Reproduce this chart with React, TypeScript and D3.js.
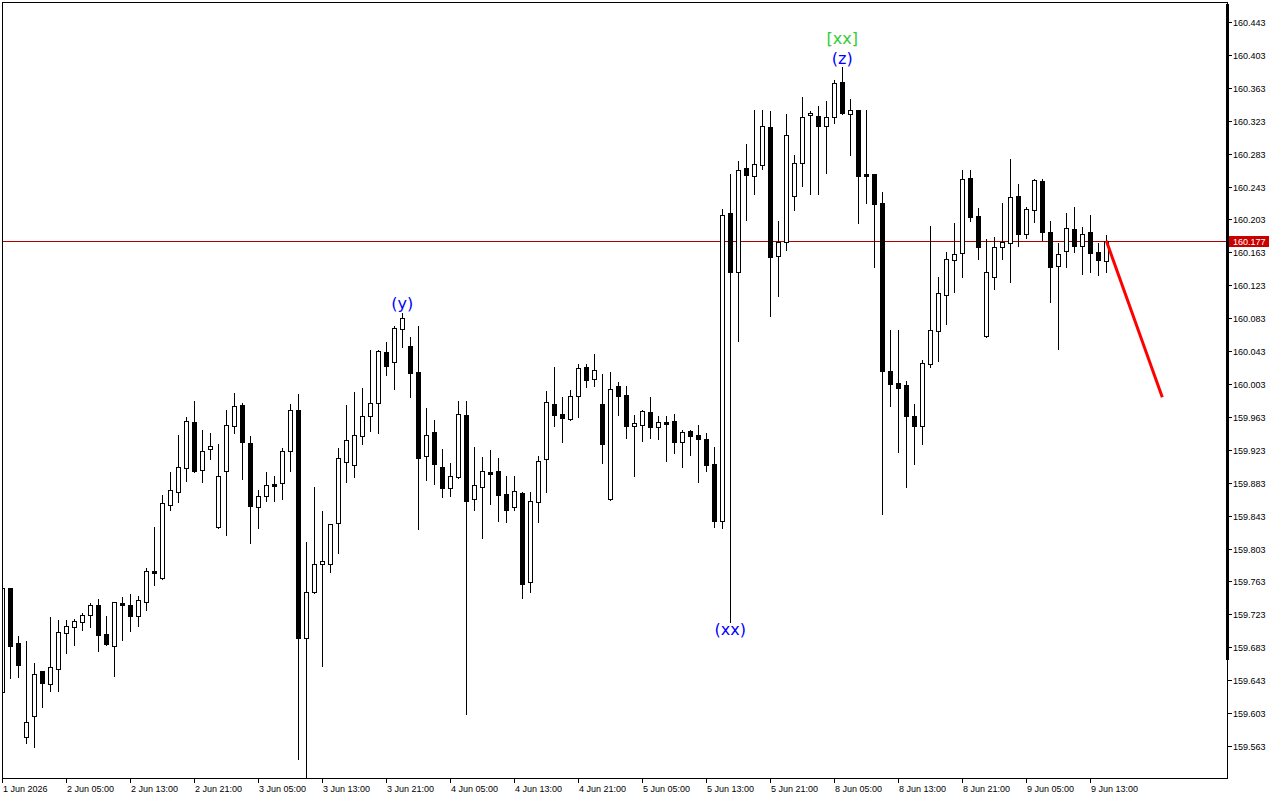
import React from "react";
import * as d3 from "d3";

const opens = [
  159.629, 159.755, 159.688, 159.574, 159.599, 159.654, 159.638, 159.657, 159.700, 159.708,
  159.714, 159.722, 159.734, 159.699, 159.684, 159.737, 159.734, 159.721, 159.738, 159.776,
  159.767, 159.856, 159.872, 159.901, 159.957, 159.898, 159.924, 159.829, 159.897, 159.952,
  159.977, 159.931, 159.853, 159.867, 159.881, 159.883, 159.922, 159.971, 159.694, 159.750,
  159.784, 159.784, 159.834, 159.908, 159.904, 159.940, 159.964, 159.980, 160.042, 160.030,
  160.070, 160.049, 160.018, 159.915, 159.945, 159.902, 159.877, 159.890, 159.965, 159.863,
  159.878, 159.896, 159.897, 159.869, 159.853, 159.870, 159.762, 159.860, 159.912, 159.979,
  159.966, 159.960, 159.988, 160.024, 160.009, 159.979, 159.863, 160.001, 159.990, 159.952,
  159.953, 159.969, 159.951, 159.957, 159.958, 159.932, 159.946, 159.941, 159.936, 159.906,
  159.836, 160.211, 160.139, 160.266, 160.256, 160.269, 160.315, 160.159, 160.176, 160.231,
  160.272, 160.330, 160.329, 160.317, 160.327, 160.370, 160.331, 160.336, 160.258, 160.258,
  160.223, 160.019, 160.004, 160.002, 159.964, 159.952, 160.027, 160.067, 160.111, 160.154,
  160.162, 160.253, 160.207, 160.061, 160.133, 160.169, 160.174, 160.231, 160.185, 160.214,
  160.250, 160.188, 160.146, 160.165, 160.191, 160.171, 160.188, 160.163, 160.152,
];

const highs = [
  159.757, 159.755, 159.697, 159.691, 159.664, 159.654, 159.720, 159.716, 159.716, 159.717,
  159.725, 159.737, 159.742, 159.721, 159.738, 159.744, 159.748, 159.745, 159.779, 159.829,
  159.868, 159.896, 159.941, 159.963, 159.982, 159.947, 159.943, 159.930, 159.971, 159.992,
  159.980, 159.940, 159.874, 159.896, 159.891, 159.925, 159.979, 159.991, 159.811, 159.878,
  159.849, 159.833, 159.925, 159.977, 159.993, 159.998, 160.044, 160.044, 160.054, 160.073,
  160.089, 160.060, 160.073, 159.974, 159.959, 159.924, 159.907, 159.982, 159.982, 159.926,
  159.914, 159.923, 159.913, 159.891, 159.891, 159.872, 159.872, 159.915, 159.994, 160.024,
  159.987, 159.996, 160.027, 160.027, 160.039, 160.015, 160.018, 160.005, 160.001, 159.965,
  159.971, 159.987, 159.964, 159.964, 159.966, 159.947, 159.947, 159.953, 159.944, 159.926,
  160.216, 160.258, 160.274, 160.295, 160.336, 160.336, 160.335, 160.201, 160.331, 160.281,
  160.352, 160.335, 160.341, 160.347, 160.372, 160.388, 160.349, 160.336, 160.336, 160.258,
  160.236, 160.069, 160.069, 160.007, 159.979, 160.032, 160.195, 160.133, 160.163, 160.199,
  160.263, 160.263, 160.217, 160.179, 160.182, 160.223, 160.276, 160.246, 160.218, 160.252,
  160.252, 160.201, 160.174, 160.211, 160.218, 160.194, 160.208, 160.174, 160.184,
];

const lows = [
  159.626, 159.646, 159.647, 159.567, 159.562, 159.610, 159.630, 159.630, 159.676, 159.686,
  159.704, 159.708, 159.678, 159.686, 159.648, 159.692, 159.703, 159.709, 159.728, 159.759,
  159.766, 159.850, 159.860, 159.885, 159.896, 159.884, 159.912, 159.828, 159.819, 159.944,
  159.887, 159.810, 159.828, 159.861, 159.861, 159.863, 159.897, 159.547, 159.522, 159.749,
  159.660, 159.774, 159.798, 159.884, 159.890, 159.930, 159.946, 159.944, 160.014, 159.997,
  160.048, 159.987, 159.827, 159.886, 159.881, 159.866, 159.867, 159.889, 159.602, 159.850,
  159.816, 159.857, 159.836, 159.835, 159.850, 159.743, 159.750, 159.835, 159.872, 159.952,
  159.932, 159.959, 159.963, 159.999, 160.001, 159.907, 159.862, 159.965, 159.937, 159.891,
  159.934, 159.937, 159.936, 159.909, 159.919, 159.902, 159.917, 159.884, 159.897, 159.829,
  159.828, 159.714, 160.055, 160.202, 160.234, 160.264, 160.086, 160.110, 160.166, 160.214,
  160.244, 160.234, 160.234, 160.259, 160.320, 160.331, 160.281, 160.199, 160.223, 160.145,
  159.845, 159.976, 159.920, 159.878, 159.906, 159.930, 160.024, 160.031, 160.076, 160.115,
  160.133, 160.201, 160.155, 160.060, 160.118, 160.155, 160.127, 160.171, 160.180, 160.200,
  160.178, 160.103, 160.045, 160.145, 160.163, 160.137, 160.139, 160.135, 160.139,
];

const closes = [
  159.755, 159.684, 159.661, 159.592, 159.650, 159.640, 159.659, 159.702, 159.709, 159.715,
  159.722, 159.734, 159.698, 159.687, 159.738, 159.734, 159.721, 159.740, 159.776, 159.773,
  159.858, 159.874, 159.902, 159.958, 159.897, 159.922, 159.928, 159.891, 159.953, 159.976,
  159.932, 159.855, 159.867, 159.880, 159.879, 159.922, 159.971, 159.694, 159.750, 159.784,
  159.788, 159.833, 159.913, 159.935, 159.941, 159.964, 159.980, 160.043, 160.025, 160.071,
  160.083, 160.016, 159.913, 159.941, 159.906, 159.877, 159.891, 159.966, 159.861, 159.880,
  159.897, 159.894, 159.868, 159.850, 159.873, 159.760, 159.861, 159.909, 159.981, 159.965,
  159.962, 159.988, 160.022, 160.008, 160.020, 159.930, 159.997, 159.988, 159.952, 159.956,
  159.970, 159.951, 159.957, 159.954, 159.932, 159.945, 159.940, 159.936, 159.904, 159.836,
  160.209, 160.139, 160.263, 160.257, 160.271, 160.317, 160.157, 160.176, 160.306, 160.272,
  160.327, 160.332, 160.317, 160.327, 160.369, 160.332, 160.336, 160.256, 160.256, 160.222,
  160.019, 160.003, 159.998, 159.964, 159.952, 160.028, 160.069, 160.114, 160.155, 160.161,
  160.252, 160.206, 160.169, 160.139, 160.169, 160.176, 160.230, 160.185, 160.216, 160.251,
  160.188, 160.145, 160.161, 160.193, 160.171, 160.185, 160.162, 160.154, 160.177,
];

const timeLabels = [
  "1 Jun 2026", "2 Jun 05:00", "2 Jun 13:00", "2 Jun 21:00", "3 Jun 05:00", "3 Jun 13:00",
  "3 Jun 21:00", "4 Jun 05:00", "4 Jun 13:00", "4 Jun 21:00", "5 Jun 05:00", "5 Jun 13:00",
  "5 Jun 21:00", "8 Jun 05:00", "8 Jun 13:00", "8 Jun 21:00", "9 Jun 05:00", "9 Jun 13:00",
];
const labelStep = 8;

const priceTicks = [
  160.443, 160.403, 160.363, 160.323, 160.283, 160.243, 160.203, 160.163, 160.123, 160.083,
  160.043, 160.003, 159.963, 159.923, 159.883, 159.843, 159.803, 159.763, 159.723, 159.683,
  159.643, 159.603, 159.563,
];

const lastPrice = 160.177;
const forecastIdx = [138, 145];
const forecastPrice = [160.177, 159.987];

const waveText = ["(y)", "(xx)", "(z)", "[xx]"];
const waveIdx = [50, 91, 105, 105];
const wavePrice = [160.1, 159.704, 160.398, 160.422];
const waveColor = ["#0000ff", "#0000ff", "#0000ff", "#32cd32"];

export default function App() {
  const W = 1280;
  const H = 800;
  const left = 2;
  const right = 1227;
  const top = 2;
  const bottom = 778;
  const n = opens.length;

  const x = d3.scaleLinear().domain([0, n - 1]).range([2.3, 2.3 + 8 * (n - 1)]);
  const y = d3
    .scaleLinear()
    .domain([priceTicks[priceTicks.length - 1], priceTicks[0]])
    .range([746, 22]);
  const px = (i: number) => Math.floor(x(i));
  const py = (v: number) => Math.round(y(v));

  const axisFont = "'Liberation Sans', Arial, sans-serif";
  const labelFont = "'DejaVu Sans', Verdana, sans-serif";

  const candles = d3.range(n).map((i) => {
    const o = opens[i];
    const c = closes[i];
    const cx = px(i);
    const yTop = py(Math.max(o, c));
    const yBot = py(Math.min(o, c));
    const bull = c >= o;
    return (
      <g key={i}>
        <line
          x1={cx + 0.5}
          x2={cx + 0.5}
          y1={py(highs[i])}
          y2={py(lows[i]) + 1}
          stroke="#000"
          strokeWidth={1}
        />
        {yBot - yTop >= 1 ? (
          <rect
            x={cx - 1.5}
            y={yTop + 0.5}
            width={4}
            height={yBot - yTop}
            fill={bull ? "#fff" : "#000"}
            stroke="#000"
            strokeWidth={1}
          />
        ) : (
          <line x1={cx - 2} x2={cx + 3} y1={yTop + 0.5} y2={yTop + 0.5} stroke="#000" strokeWidth={1} />
        )}
      </g>
    );
  });

  const lp = py(lastPrice) + 0.5;

  return (
    <div style={{ position: "fixed", left: 0, top: 0, width: W, height: H, background: "#fff" }}>
      <svg width={W} height={H} style={{ display: "block" }}>
        <defs>
          <clipPath id="plot">
            <rect x={left + 1} y={top + 1} width={right - left - 1} height={bottom - top - 1} />
          </clipPath>
        </defs>
        <rect x={0} y={0} width={W} height={H} fill="#fff" />

        <g clipPath="url(#plot)">
          <line x1={left} x2={right} y1={lp} y2={lp} stroke="#b00000" strokeWidth={1} />
          {candles}
          <line
            x1={x(forecastIdx[0])}
            y1={y(forecastPrice[0])}
            x2={x(forecastIdx[1])}
            y2={y(forecastPrice[1])}
            stroke="#ff0000"
            strokeWidth={3}
          />
          {waveText.map((t, k) => (
            <text
              key={k}
              x={x(waveIdx[k])}
              y={y(wavePrice[k]) + 5}
              textAnchor="middle"
              fontFamily={labelFont}
              fontSize={16}
              fill={waveColor[k]}
            >
              {t}
            </text>
          ))}
        </g>

        {/* frame */}
        <line x1={left + 0.5} x2={left + 0.5} y1={top} y2={bottom + 1} stroke="#000" />
        <line x1={left} x2={right + 1} y1={top + 0.5} y2={top + 0.5} stroke="#000" />
        <line x1={left} x2={right + 1} y1={bottom + 0.5} y2={bottom + 0.5} stroke="#000" />
        <line x1={right + 0.5} x2={right + 0.5} y1={top} y2={bottom + 1} stroke="#000" />
        <rect x={right - 1} y={4} width={3} height={656} fill="#000" />

        {/* price axis */}
        {priceTicks.map((p, k) => {
          const ty = py(p) + 0.5;
          return (
            <g key={k}>
              <line x1={right + 1} x2={right + 5} y1={ty} y2={ty} stroke="#000" />
              <text
                x={right + 6}
                y={ty + 3}
                fontFamily={axisFont}
                fontSize={9}
                fill="#000"
              >
                {p.toFixed(3)}
              </text>
            </g>
          );
        })}
        <rect x={right + 2} y={lp - 5.5} width={40} height={11} fill="#c80000" />
        <text x={right + 6} y={lp + 3} fontFamily={axisFont} fontSize={9} fill="#fff">
          {lastPrice.toFixed(3)}
        </text>

        {/* time axis */}
        {timeLabels.map((t, k) => {
          const tx = px(k * labelStep);
          return (
            <g key={k}>
              <line x1={tx + 0.5} x2={tx + 0.5} y1={bottom + 1} y2={bottom + 5} stroke="#000" />
              <text x={Math.max(tx + 1, 3)} y={792} fontFamily={axisFont} fontSize={9} fill="#000">
                {t}
              </text>
            </g>
          );
        })}
      </svg>
    </div>
  );
}
